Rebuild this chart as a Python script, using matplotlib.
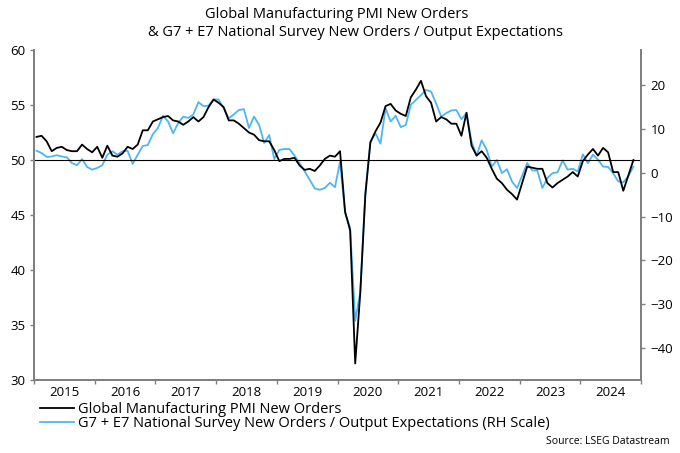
import matplotlib
matplotlib.use("Agg")
import matplotlib.pyplot as plt
import numpy as np
from matplotlib.ticker import FixedLocator, NullFormatter

plt.rcParams["font.family"] = ["Open Sans", "DejaVu Sans"]

# monthly, Jan 2015 .. Nov 2024
pmi_new_orders = [
    52.1, 52.2, 51.7, 50.8, 51.1, 51.2, 50.9, 50.8, 50.8, 51.4, 51.0, 50.7,
    51.2, 50.2, 51.3, 50.4, 50.3, 50.6, 51.2, 51.0, 51.4, 52.7, 52.7, 53.5,
    53.7, 53.9, 54.0, 53.6, 53.5, 53.2, 53.5, 53.9, 53.5, 53.9, 54.8, 55.5,
    55.2, 54.8, 53.6, 53.6, 53.3, 52.9, 52.5, 52.3, 51.8, 51.7, 51.7, 50.9,
    49.9, 50.1, 50.1, 50.2, 49.5, 49.1, 49.2, 49.0, 49.5, 50.1, 50.4, 50.3,
    50.8, 45.3, 43.6, 31.5, 37.9, 46.8, 51.6, 52.6, 53.4, 54.9, 55.1, 54.5,
    54.2, 54.0, 55.7, 56.4, 57.2, 55.8, 55.2, 53.5, 53.9, 53.7, 53.3, 53.3,
    52.2, 54.3, 51.3, 50.4, 50.8, 50.2, 49.2, 48.3, 47.9, 47.3, 46.9, 46.4,
    47.9, 49.4, 49.3, 49.2, 49.2, 47.9, 47.5, 47.9, 48.2, 48.5, 48.9, 48.5,
    49.9, 50.5, 51.0, 50.4, 51.1, 50.7, 48.9, 48.9, 47.2, 48.6, 50.0,
]
g7_e7_survey = [
    5.0, 4.5, 3.6, 3.7, 4.0, 3.7, 3.5, 2.2, 1.7, 3.1, 1.3, 0.7,
    1.1, 1.7, 4.1, 4.9, 4.1, 4.9, 5.0, 2.0, 4.1, 6.1, 6.3, 8.8,
    10.2, 13.0, 11.7, 9.0, 11.3, 12.8, 12.5, 13.3, 16.1, 15.2, 15.3, 16.7,
    16.7, 14.7, 12.4, 13.3, 14.3, 14.5, 10.2, 12.8, 10.9, 6.8, 8.6, 3.1,
    5.2, 5.4, 5.4, 3.9, 2.2, 0.3, -1.6, -3.6, -3.9, -3.5, -2.3, -3.3,
    2.5, -9.2, -12.6, -33.8, -27.3, -4.6, 7.1, 9.0, 6.6, 14.7, 11.7, 13.0,
    10.4, 10.9, 15.5, 16.6, 17.7, 18.9, 18.5, 15.8, 12.8, 13.6, 14.2, 14.3,
    12.2, 13.6, 7.1, 3.9, 7.4, 5.2, 1.4, 2.9, -0.1, 0.8, -2.0, -3.5,
    -0.7, 2.2, 0.5, 0.5, -3.5, -1.2, -0.1, 0.1, 2.8, 0.7, 0.9, 0.3,
    4.2, 2.2, 4.1, 3.0, 1.4, 1.3, -0.1, -2.0, -2.2, -0.8, 1.4,
]
years = list(range(2015, 2025))
left_ticks = [30, 35, 40, 45, 50, 55, 60]
right_ticks = [-40, -30, -20, -10, 0, 10, 20]

BLUE = "#4db6f2"
GREY = "#808080"

x = 2015 + (np.arange(len(pmi_new_orders)) + 0.5) / 12.0

fig = plt.figure(figsize=(6.8, 4.53), dpi=100)
ax = fig.add_axes([34 / 680, 1 - 380 / 453, (641 - 34) / 680, 330 / 453])
ax2 = ax.twinx()

ax.axhline(50, color="black", lw=0.8, zorder=1)
l2, = ax2.plot(x, g7_e7_survey, color=BLUE, lw=1.3)
l1, = ax.plot(x, pmi_new_orders, color="black", lw=1.3, zorder=3)
ax.set_zorder(ax2.get_zorder() + 1)
ax.patch.set_visible(False)

ax.set_xlim(2015, 2025)
ax.set_ylim(30, 60)
ax2.set_ylim(-47.3, 28)
ax.set_yticks(left_ticks)
ax2.set_yticks(right_ticks)

ax.xaxis.set_major_locator(FixedLocator(list(range(2015, 2026))))
ax.xaxis.set_major_formatter(NullFormatter())
ax.xaxis.set_minor_locator(FixedLocator([y + 0.5 for y in years]))
ax.set_xticklabels([str(y) for y in years], minor=True)
ax.tick_params(axis="x", which="major", length=3, width=1, color=GREY, direction="out")
ax.tick_params(axis="x", which="minor", length=0, pad=4, labelsize=9.5)
ax.tick_params(axis="y", length=3, width=1, color=GREY, pad=3, labelsize=9.5)
ax2.tick_params(axis="y", length=3, width=1, color=GREY, pad=4, labelsize=9.5)

for a in (ax, ax2):
    a.spines["top"].set_visible(False)
    for s in ("left", "right", "bottom"):
        a.spines[s].set_color(GREY)
        a.spines[s].set_linewidth(1.4)

fig.text(337 / 680, 1 - 14 / 453, "Global Manufacturing PMI New Orders",
         ha="center", va="center", fontsize=10.5)
fig.text(355 / 680, 1 - 32 / 453,
         "& G7 + E7 National Survey New Orders / Output Expectations",
         ha="center", va="center", fontsize=10.5)

fig.legend([l1, l2],
           ["Global Manufacturing PMI New Orders",
            "G7 + E7 National Survey New Orders / Output Expectations (RH Scale)"],
           loc="upper left", bbox_to_anchor=(40 / 680, 1 - 402 / 453),
           frameon=False, fontsize=10.5, handlelength=2.3, handletextpad=0.3,
           labelspacing=-0.05, borderaxespad=0, borderpad=0)

fig.text(670 / 680, 1 - 442 / 453, "Source: LSEG Datastream",
         ha="right", va="center", fontsize=7.5)

fig.savefig("out.png", dpi=100)
